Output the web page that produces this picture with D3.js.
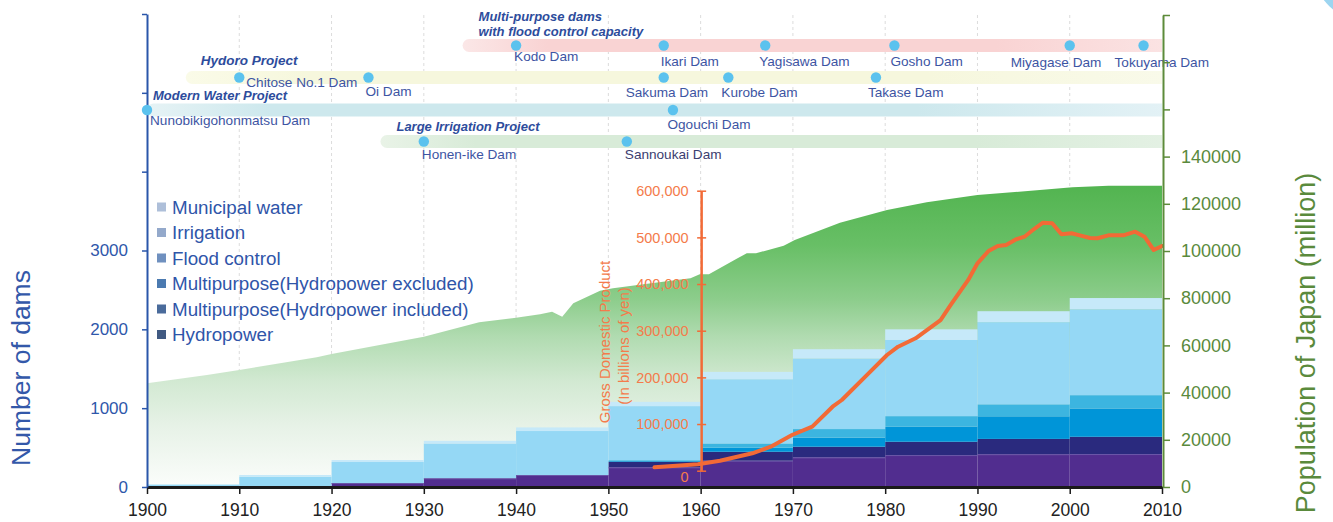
<!DOCTYPE html>
<html><head><meta charset="utf-8">
<script src="https://cdn.jsdelivr.net/npm/d3@7/dist/d3.min.js"></script>
<style>
body{margin:0;background:#fff;}
svg{display:block;font-family:Arial,"Liberation Sans",Helvetica,sans-serif;}
</style>
</head><body>
<svg id="chart" width="1333" height="522"></svg>
<script>
// ---------------- DATA ----------------
const decades = [1900, 1910, 1920, 1930, 1940, 1950, 1960, 1970, 1980, 1990, 2000];
const hydropower   = [0, 0, 50, 110, 152, 250, 333, 376, 405, 416, 418];
const mpIncluded   = [0, 0, 0, 0, 0, 71, 114, 135, 169, 194, 219];
const mpExcluded   = [0, 0, 0, 0, 0, 10, 51, 114, 190, 287, 359];
const floodControl = [0, 0, 0, 0, 0, 10, 55, 110, 135, 152, 169];
const irrigation   = [30, 132, 267, 442, 558, 685, 814, 895, 966, 1042, 1089];
const municipal    = [6, 20, 25, 34, 46, 54, 93, 118, 135, 139, 143];
const seriesKeys = ["Hydropower", "Multipurpose(Hydropower included)", "Multipurpose(Hydropower excluded)", "Flood control", "Irrigation", "Municipal water"];

const popYears = [1900, 1906.5, 1910, 1918.4, 1920, 1930, 1936, 1940, 1942.6, 1943.9, 1945, 1946.2, 1949.1, 1950.5, 1953.8, 1958.9, 1959.9, 1960.9, 1964, 1965, 1966, 1969, 1970.2, 1975.1, 1980.2, 1984.5, 1990, 2000.3, 2004.2, 2010];
const population = [43940, 47460, 49580, 54960, 56360, 63690, 69790, 71740, 73180, 74280, 72160, 77840, 83180, 84190, 85890, 88430, 90130, 90130, 96910, 99030, 99030, 102250, 104660, 111990, 117370, 120640, 123730, 126990, 127670, 127670];

const gdpYears = [1955, 1959.7, 1962.1, 1965.6, 1967.6, 1969.9, 1972.1, 1974.3, 1975.3, 1978.2, 1980.2, 1981.4, 1983.3, 1986, 1987.1, 1989, 1990, 1991.2, 1992.2, 1993.1, 1994.2, 1995.1, 1996.1, 1997.1, 1998.1, 1999.1, 2000.2, 2001.2, 2002.2, 2003, 2004.2, 2005.8, 2007.1, 2008.1, 2009.1, 2010];
const gdp = [7300, 13700, 21400, 37300, 51400, 76500, 94300, 137100, 151500, 208700, 247900, 265700, 283700, 322900, 355100, 408700, 444400, 470800, 481500, 483700, 495900, 501400, 517300, 531400, 530200, 506600, 508700, 503600, 498700, 498000, 504400, 504400, 512200, 501400, 472900, 481500];

const damTicks = [0, 1000, 2000, 3000, 4000, 5000, 6000];
const popTicks = [0, 20000, 40000, 60000, 80000, 100000, 120000, 140000, 160000, 180000, 200000];
const gdpTicks = [0, 100000, 200000, 300000, 400000, 500000, 600000];
const yearTicks = [1900, 1910, 1920, 1930, 1940, 1950, 1960, 1970, 1980, 1990, 2000, 2010];

const projectTitles = [["Multi-purpose dams", "with flood control capacity"], ["Hydoro Project"], ["Modern Water Project"], ["Large Irrigation Project"]];
const projectStart = [1934.2, 1904.2, 1900, 1925.3];
const damNames = ["Kodo Dam", "Ikari Dam", "Yagisawa Dam", "Gosho Dam", "Miyagase Dam", "Tokuyama Dam",
  "Chitose No.1 Dam", "Oi Dam", "Sakuma Dam", "Kurobe Dam", "Takase Dam",
  "Nunobikigohonmatsu Dam", "Ogouchi Dam",
  "Honen-ike Dam", "Sannoukai Dam"];
const damYears = [1940, 1956, 1967, 1981, 2000, 2008, 1910, 1924, 1956, 1963, 1979, 1900, 1957, 1930, 1952];
const damProject = [0, 0, 0, 0, 0, 0, 1, 1, 1, 1, 1, 2, 2, 3, 3];

// ---------------- LAYOUT / STYLE ----------------
const W = 1333, H = 522;
const rowY = [45.5, 77.5, 110, 141.5];
const labelDx = [-2, -3, -6, -4, -59, -29, 7, -3, -38, -7, -8, 3, -5.5, -2, -2];
const labelDy = [15.5, 20, 20, 20, 21, 21, 9, 18.5, 19.5, 19.5, 19.5, 14.5, 18.5, 17.5, 17.5];
const titleDx = [16, 15, 6, 16];
const titleDy = [[-24.5, -9.5], [-12.5], [-10], [-10.5]];
const barColors = ["#512d8f", "#2a2a7e", "#0095d8", "#3cb5e0", "#95d8f5", "#c6e9f9"];
const legendColors = ["#415a82", "#4a6b9b", "#4b7ab0", "#6f90bf", "#94a9cb", "#aebfd9"];
const bandColors = [["#fbe7e7", "#f9d3d3", "#fbe4e4"], ["#fafbe8", "#f6f7dd", "#f9faea"], ["#e6f3f5", "#cde8ed", "#e4f2f6"], ["#e9f3e7", "#d8ebd8", "#e4f1e4"]];

const svg = d3.select("#chart");
const defs = svg.append("defs");

const x = d3.scaleLinear().domain([1900, 2010]).range([147, 1162]);
const yDam = d3.scaleLinear().domain([0, 6000]).range([487, 14]);
const yPop = d3.scaleLinear().domain([0, 200000]).range([487, 15]);
const yGdp = d3.scaleLinear().domain([0, 600000]).range([470.7, 190.7]);

// top-right decoration
svg.append("circle").attr("cx", 1380).attr("cy", -45).attr("r", 72).attr("fill", "#9dd5f0");

// gridlines
svg.append("g").selectAll("line").data(yearTicks.slice(1, -1)).join("line")
  .attr("x1", d => x(d)).attr("x2", d => x(d)).attr("y1", 15).attr("y2", 487)
  .attr("stroke", "#dcdcdc").attr("stroke-width", 1).attr("stroke-dasharray", "3,3");

// population area
const pg = defs.append("linearGradient").attr("id", "popGrad")
  .attr("gradientUnits", "userSpaceOnUse").attr("x1", 0).attr("y1", 185).attr("x2", 0).attr("y2", 487);
[[0, "#52b450"], [0.2, "#68bf66"], [0.38, "#8dcd8c"], [0.5, "#b0dbb0"], [0.65, "#d2e9d2"], [0.8, "#e7f2e7"], [1, "#fbfdfb"]]
  .forEach(s => pg.append("stop").attr("offset", s[0]).attr("stop-color", s[1]));
const popData = popYears.map((yr, i) => ({ yr, v: population[i] }));
svg.append("path").datum(popData)
  .attr("d", d3.area().x(d => x(d.yr)).y0(yPop(0)).y1(d => yPop(d.v)))
  .attr("fill", "url(#popGrad)");

// stacked bars
const table = decades.map((d, i) => ({
  decade: d,
  "Hydropower": hydropower[i],
  "Multipurpose(Hydropower included)": mpIncluded[i],
  "Multipurpose(Hydropower excluded)": mpExcluded[i],
  "Flood control": floodControl[i],
  "Irrigation": irrigation[i],
  "Municipal water": municipal[i]
}));
const stacked = d3.stack().keys(seriesKeys)(table);
svg.append("g").selectAll("g").data(stacked).join("g")
  .attr("fill", (d, i) => barColors[i])
  .selectAll("rect").data(d => d).join("rect")
  .attr("x", d => x(d.data.decade))
  .attr("width", d => x(d.data.decade + 10) - x(d.data.decade))
  .attr("y", d => yDam(d[1]))
  .attr("height", d => yDam(d[0]) - yDam(d[1]));
// thin highlight at top of hydropower segments
svg.append("g").selectAll("line").data(stacked[0].filter(d => d[1] > 0)).join("line")
  .attr("x1", d => x(d.data.decade)).attr("x2", d => x(d.data.decade + 10))
  .attr("y1", d => yDam(d[1]) + 0.5).attr("y2", d => yDam(d[1]) + 0.5)
  .attr("stroke", "#6b58a8").attr("stroke-width", 1);

// GDP axis
const gdpAxis = svg.append("g").attr("transform", `translate(${x(1960) + 0.5},0)`)
  .call(d3.axisLeft(yGdp).tickValues(gdpTicks).tickFormat(d3.format(",")).tickSize(4).tickSizeOuter(0).tickPadding(8.5));
gdpAxis.select(".domain").attr("stroke", "#f26a36").attr("stroke-width", 2.5);
gdpAxis.selectAll(".tick line").attr("x1", 5).attr("x2", -4).attr("stroke", "#f26a36").attr("stroke-width", 1.5);
gdpAxis.selectAll(".tick text").attr("fill", "#f47b4b").attr("font-size", "14.5px").attr("font-family", "Arial,'Liberation Sans',sans-serif");
gdpAxis.selectAll(".tick").filter(d => d === 0).select("text").attr("dy", "0.75em");

const gdpLabel = svg.append("g").attr("fill", "#f47b4b").attr("font-size", "15px").attr("text-anchor", "middle");
gdpLabel.append("text").attr("transform", "translate(609.5,342) rotate(-90)").text("Gross Domestic Product");
gdpLabel.append("text").attr("transform", "translate(628.5,346) rotate(-90)").text("(In billions of yen)");

// GDP line
const gdpData = gdpYears.map((yr, i) => ({ yr, v: gdp[i] }));
svg.append("path").datum(gdpData)
  .attr("d", d3.line().x(d => x(d.yr)).y(d => yGdp(d.v)))
  .attr("fill", "none").attr("stroke", "#f26a36").attr("stroke-width", 4)
  .attr("stroke-linejoin", "round").attr("stroke-linecap", "round");

// x axis
const xAxis = svg.append("g").attr("transform", "translate(0,487)")
  .call(d3.axisBottom(x).tickValues(yearTicks).tickFormat(d3.format("d")).tickSize(7).tickSizeOuter(0).tickPadding(10));
xAxis.select(".domain").attr("stroke", "#1a1a1a").attr("stroke-width", 3);
xAxis.selectAll(".tick line").attr("stroke", "#1a1a1a").attr("stroke-width", 1.5);
xAxis.selectAll(".tick text").attr("fill", "#222").attr("font-size", "17.5px").attr("font-family", "Arial,'Liberation Sans',sans-serif");

// left axis
const lAxis = svg.append("g").attr("transform", "translate(147,0)")
  .call(d3.axisLeft(yDam).tickValues(damTicks).tickFormat(d => d <= 3000 ? d : "").tickSize(5).tickSizeOuter(0).tickPadding(14));
lAxis.select(".domain").attr("stroke", "#2a56aa").attr("stroke-width", 2);
lAxis.selectAll(".tick line").attr("stroke", "#2a56aa").attr("stroke-width", 1.5);
lAxis.selectAll(".tick text").attr("fill", "#2f57aa").attr("font-size", "17px").attr("font-family", "Arial,'Liberation Sans',sans-serif");
svg.append("text").attr("transform", "translate(30,368) rotate(-90)").attr("text-anchor", "middle")
  .attr("fill", "#3358a9").attr("font-size", "26.5px").text("Number of dams");

// legend
const legendOrder = seriesKeys.map((k, i) => i).reverse();
const lg = svg.append("g");
legendOrder.forEach((si, j) => {
  const cy = 207 + j * 25.5;
  lg.append("rect").attr("x", 157).attr("y", cy - 4.5).attr("width", 9).attr("height", 9).attr("fill", legendColors[si]);
  lg.append("text").attr("x", 172).attr("y", cy).attr("dy", "0.35em").attr("fill", "#2f55a9")
    .attr("font-size", "18.8px").text(seriesKeys[si]);
});

// timeline bands
defs.append("clipPath").attr("id", "bandClip").append("rect").attr("x", 0).attr("y", 0).attr("width", x(2010)).attr("height", 200);
const tl = svg.append("g");
projectStart.forEach((st, p) => {
  const gid = "band" + p;
  const g = defs.append("linearGradient").attr("id", gid).attr("x1", 0).attr("x2", 1).attr("y1", 0).attr("y2", 0);
  g.append("stop").attr("offset", 0).attr("stop-color", bandColors[p][0]);
  g.append("stop").attr("offset", 0.12).attr("stop-color", bandColors[p][1]);
  g.append("stop").attr("offset", 0.75).attr("stop-color", bandColors[p][1]);
  g.append("stop").attr("offset", 1).attr("stop-color", bandColors[p][2]);
  tl.append("rect").attr("clip-path", "url(#bandClip)")
    .attr("x", x(st)).attr("y", rowY[p] - 6.5).attr("width", x(2010) + 12 - x(st)).attr("height", 13)
    .attr("rx", 6.5).attr("fill", `url(#${gid})`);
  const t = tl.append("text").attr("fill", "#2d4c9c").attr("font-weight", "bold").attr("font-style", "italic")
    .attr("font-size", p === 1 ? "13.5px" : "13px");
  projectTitles[p].forEach((line, k) => {
    t.append("tspan").attr("x", x(st) + titleDx[p]).attr("y", rowY[p] + titleDy[p][k]).text(line);
  });
});
damNames.forEach((n, i) => {
  const cx = x(damYears[i]), cy = rowY[damProject[i]];
  tl.append("circle").attr("cx", cx).attr("cy", cy).attr("r", 5.2).attr("fill", "#5bc2ee");
  tl.append("text").attr("x", cx + labelDx[i]).attr("y", cy + labelDy[i])
    .attr("fill", n === "Sannoukai Dam" ? "#3b4070" : "#3d55a3").attr("font-size", "13.6px").text(n);
});

// right axis
const rAxis = svg.append("g").attr("transform", "translate(1163,0)")
  .call(d3.axisRight(yPop).tickValues(popTicks).tickFormat(d => d <= 140000 ? d : "").tickSize(7).tickSizeOuter(0).tickPadding(11));
rAxis.select(".domain").attr("stroke", "#5d8b3a").attr("stroke-width", 2);
rAxis.selectAll(".tick line").attr("stroke", "#5d8b3a").attr("stroke-width", 1.5);
rAxis.selectAll(".tick text").attr("fill", "#5a8a3c").attr("font-size", "18px").attr("font-family", "Arial,'Liberation Sans',sans-serif");
svg.append("text").attr("transform", "translate(1315,343) rotate(-90)").attr("text-anchor", "middle")
  .attr("fill", "#5a8a3c").attr("font-size", "27px").text("Population of Japan (million)");
</script>
</body></html>
